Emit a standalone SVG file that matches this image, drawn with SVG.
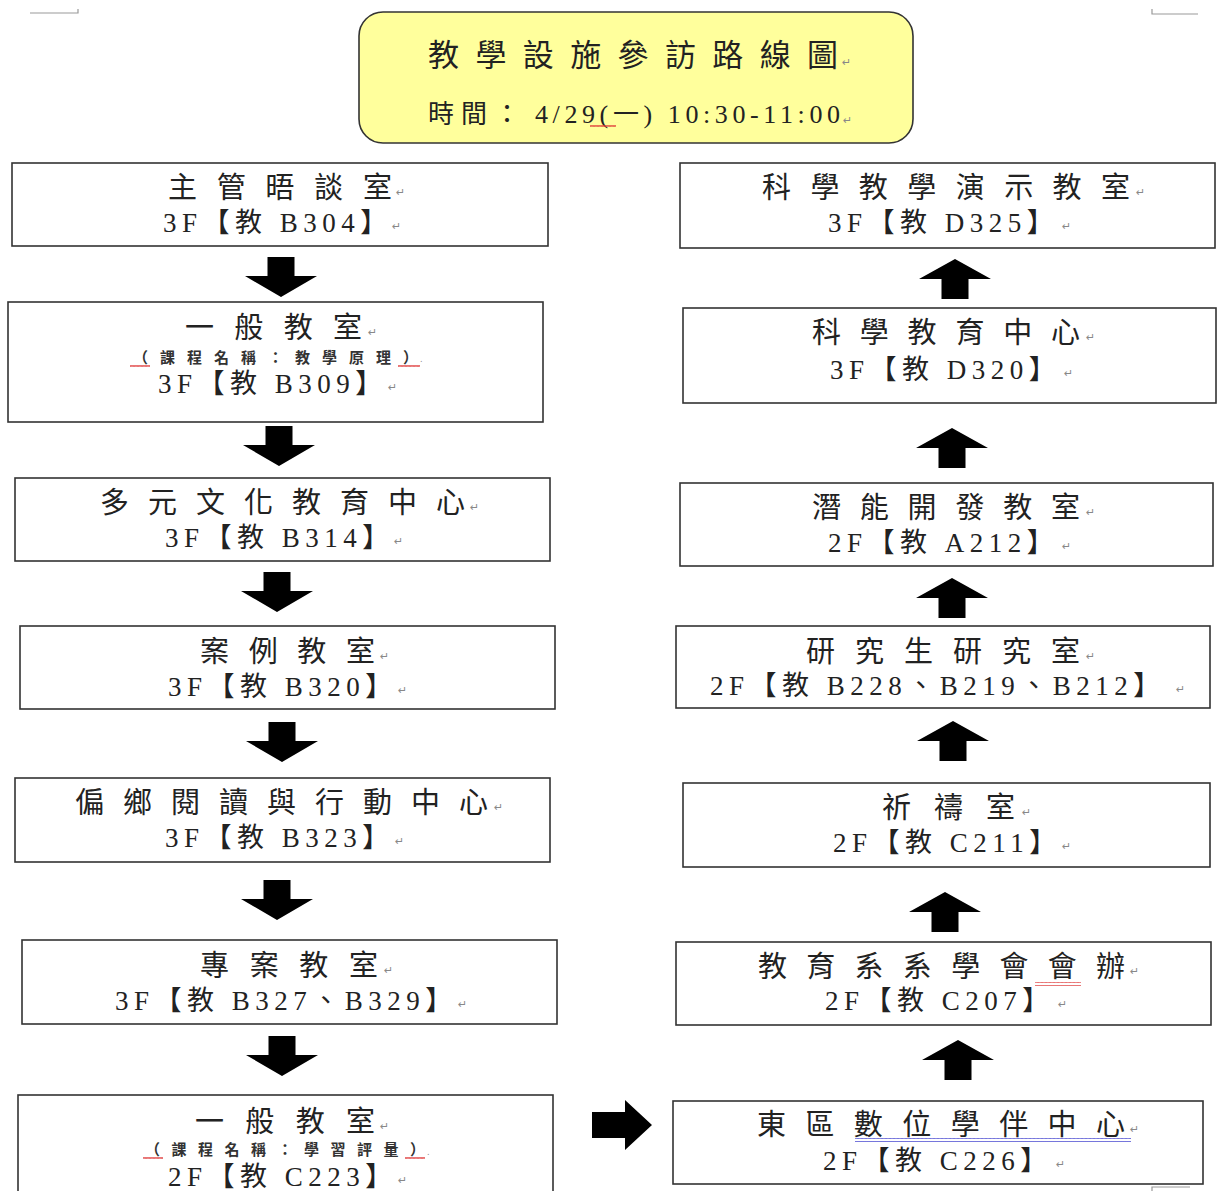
<svg xmlns="http://www.w3.org/2000/svg" xmlns:xlink="http://www.w3.org/1999/xlink" width="1221" height="1191" viewBox="0 0 1221 1191">
<style>
.box{fill:#fff;stroke:#333;stroke-width:1.6}
.title{fill:#FFFF9C;stroke:#333;stroke-width:1.6}
.t1{font-family:"Liberation Serif","Noto Sans CJK TC",serif;font-size:29px;fill:#222}
.t2{font-family:"Liberation Serif","Noto Sans CJK TC",serif;font-size:27px;letter-spacing:5.5px;fill:#222}
.ts{font-family:"Liberation Serif","Noto Sans CJK TC",serif;font-size:15px;font-weight:bold;fill:#333}
.tt{font-family:"Liberation Serif","Noto Sans CJK TC",serif;font-size:31px;fill:#222}
.tt2{font-family:"Liberation Serif","Noto Sans CJK TC",serif;font-size:26px;letter-spacing:4.6px;fill:#222}
.pm{font-family:"DejaVu Sans",sans-serif;font-size:11px;fill:#888}
.arrow{fill:#000}
.mark{fill:none;stroke:#999;stroke-width:1.2}
</style>
<defs>
<path id="down" d="M-13.5 0 H13.5 V19 H36 L0 40 L-36 19 H-13.5 Z"/>
<path id="up" d="M-13.5 40 H13.5 V20 H36 L0 0 L-36 20 H-13.5 Z"/>
<pattern id="wavR" width="4" height="4" patternUnits="userSpaceOnUse"><path d="M0 3 L1 1 L2 3 L3 1 L4 3" fill="none" stroke="#d33" stroke-width="0.8"/></pattern>
<pattern id="wavB" width="4" height="4" patternUnits="userSpaceOnUse"><path d="M0 3 L1 1 L2 3 L3 1 L4 3" fill="none" stroke="#33c" stroke-width="0.8"/></pattern>
</defs>

<g id="page-marks">
<path class="mark" d="M30 13 H78 V9"/>
<path class="mark" d="M1152 9 V14 H1198"/>
<path class="mark" d="M1152 1191 V1187 H1190"/>
</g>

<g id="title">
<rect class="title" x="359" y="12" width="554" height="131" rx="24"/>
<text class="tt" x="428" y="66" textLength="410" lengthAdjust="spacing">教學設施參訪路線圖</text>
<text class="pm" x="842" y="66">↵</text>
<text class="tt2" y="123"><tspan x="428" style="letter-spacing:7px">時間：</tspan><tspan x="535">4/29(一) 10:30-11:00</tspan></text>
<text class="pm" x="843" y="124">↵</text>
<rect x="590" y="124" width="26" height="4" fill="url(#wavR)"/>
</g>

<g id="n-b304">
<rect class="box" x="12" y="163" width="536" height="83"/>
<text class="t1" x="168" y="198" textLength="224" lengthAdjust="spacing">主管晤談室</text>
<text class="pm" x="396" y="196">↵</text>
<text class="t2" x="163" y="232">3F【教 B304】</text>
<text class="pm" x="392" y="230">↵</text>
</g>

<g id="n-b309">
<rect class="box" x="8" y="302" width="535" height="120"/>
<text class="t1" x="185" y="338" textLength="177" lengthAdjust="spacing">一般教室</text>
<text class="pm" x="368" y="336">↵</text>
<text class="ts" x="133" y="363" textLength="285" lengthAdjust="spacing">（課程名稱：教學原理）</text>
<text class="pm" x="420" y="362" style="font-size:8px">.</text>
<rect x="130" y="364" width="20" height="4" fill="url(#wavR)"/>
<rect x="398" y="364" width="22" height="4" fill="url(#wavR)"/>
<text class="t2" x="158" y="393">3F【教 B309】</text>
<text class="pm" x="388" y="391">↵</text>
</g>

<g id="n-b314">
<rect class="box" x="15" y="478" width="535" height="83"/>
<text class="t1" x="100" y="513" textLength="365" lengthAdjust="spacing">多元文化教育中心</text>
<text class="pm" x="470" y="511">↵</text>
<text class="t2" x="165" y="547">3F【教 B314】</text>
<text class="pm" x="394" y="545">↵</text>
</g>

<g id="n-b320">
<rect class="box" x="20" y="626" width="535" height="83"/>
<text class="t1" x="200" y="662" textLength="175" lengthAdjust="spacing">案例教室</text>
<text class="pm" x="380" y="660">↵</text>
<text class="t2" x="168" y="696">3F【教 B320】</text>
<text class="pm" x="398" y="694">↵</text>
</g>

<g id="n-b323">
<rect class="box" x="15" y="778" width="535" height="84"/>
<text class="t1" x="75" y="813" textLength="413" lengthAdjust="spacing">偏鄉閱讀與行動中心</text>
<text class="pm" x="494" y="811">↵</text>
<text class="t2" x="165" y="847">3F【教 B323】</text>
<text class="pm" x="395" y="845">↵</text>
</g>

<g id="n-b327">
<rect class="box" x="22" y="940" width="535" height="84"/>
<text class="t1" x="200" y="976" textLength="178" lengthAdjust="spacing">專案教室</text>
<text class="pm" x="384" y="974">↵</text>
<text class="t2" x="115" y="1010">3F【教 B327、B329】</text>
<text class="pm" x="458" y="1008">↵</text>
</g>

<g id="n-c223">
<rect class="box" x="18" y="1095" width="535" height="110"/>
<text class="t1" x="195" y="1132" textLength="180" lengthAdjust="spacing">一般教室</text>
<text class="pm" x="380" y="1130">↵</text>
<text class="ts" x="145" y="1155" textLength="280" lengthAdjust="spacing">（課程名稱：學習評量）</text>
<text class="pm" x="427" y="1155" style="font-size:8px">.</text>
<rect x="143" y="1156" width="20" height="4" fill="url(#wavR)"/>
<rect x="405" y="1156" width="20" height="4" fill="url(#wavR)"/>
<text class="t2" x="168" y="1186">2F【教 C223】</text>
<text class="pm" x="398" y="1184">↵</text>
</g>

<g id="n-d325">
<rect class="box" x="680" y="163" width="535" height="85"/>
<text class="t1" x="762" y="198" textLength="368" lengthAdjust="spacing">科學教學演示教室</text>
<text class="pm" x="1136" y="196">↵</text>
<text class="t2" x="828" y="232">3F【教 D325】</text>
<text class="pm" x="1062" y="230">↵</text>
</g>

<g id="n-d320">
<rect class="box" x="683" y="308" width="533" height="95"/>
<text class="t1" x="812" y="343" textLength="268" lengthAdjust="spacing">科學教育中心</text>
<text class="pm" x="1086" y="341">↵</text>
<text class="t2" x="830" y="379">3F【教 D320】</text>
<text class="pm" x="1064" y="377">↵</text>
</g>

<g id="n-a212">
<rect class="box" x="680" y="483" width="533" height="83"/>
<text class="t1" x="812" y="518" textLength="268" lengthAdjust="spacing">潛能開發教室</text>
<text class="pm" x="1086" y="516">↵</text>
<text class="t2" x="828" y="552">2F【教 A212】</text>
<text class="pm" x="1062" y="550">↵</text>
</g>

<g id="n-b228">
<rect class="box" x="676" y="626" width="534" height="82"/>
<text class="t1" x="806" y="662" textLength="274" lengthAdjust="spacing">研究生研究室</text>
<text class="pm" x="1086" y="660">↵</text>
<text class="t2" x="710" y="695">2F【教 B228、B219、B212】</text>
<text class="pm" x="1176" y="693">↵</text>
</g>

<g id="n-c211">
<rect class="box" x="683" y="783" width="527" height="84"/>
<text class="t1" x="882" y="818" textLength="133" lengthAdjust="spacing">祈禱室</text>
<text class="pm" x="1022" y="816">↵</text>
<text class="t2" x="833" y="852">2F【教 C211】</text>
<text class="pm" x="1062" y="850">↵</text>
</g>

<g id="n-c207">
<rect class="box" x="676" y="942" width="535" height="83"/>
<text class="t1" x="758" y="977" textLength="367" lengthAdjust="spacing">教育系系學會會辦</text>
<text class="pm" x="1130" y="975">↵</text>
<rect x="1035" y="982" width="46" height="4" fill="url(#wavR)"/>
<text class="t2" x="825" y="1010">2F【教 C207】</text>
<text class="pm" x="1058" y="1008">↵</text>
</g>

<g id="n-c226">
<rect class="box" x="673" y="1101" width="530" height="83"/>
<text class="t1" x="757" y="1135" textLength="368" lengthAdjust="spacing">東區數位學伴中心</text>
<text class="pm" x="1130" y="1133">↵</text>
<rect x="855" y="1138" width="276" height="4" fill="url(#wavB)"/>
<text class="t2" x="823" y="1170">2F【教 C226】</text>
<text class="pm" x="1056" y="1168">↵</text>
</g>

<g id="connectors" class="arrow">
<use xlink:href="#down" x="281" y="257"/>
<use xlink:href="#down" x="279" y="426"/>
<use xlink:href="#down" x="277" y="572"/>
<use xlink:href="#down" x="282" y="722"/>
<use xlink:href="#down" x="277" y="880"/>
<use xlink:href="#down" x="282" y="1036"/>
<path d="M592 1112 H625 V1100 L652 1125 L625 1150 V1138 H592 Z"/>
<use xlink:href="#up" x="958" y="1040"/>
<use xlink:href="#up" x="945" y="892"/>
<use xlink:href="#up" x="953" y="721"/>
<use xlink:href="#up" x="952" y="578"/>
<use xlink:href="#up" x="952" y="428"/>
<use xlink:href="#up" x="955" y="259"/>
</g>
</svg>
